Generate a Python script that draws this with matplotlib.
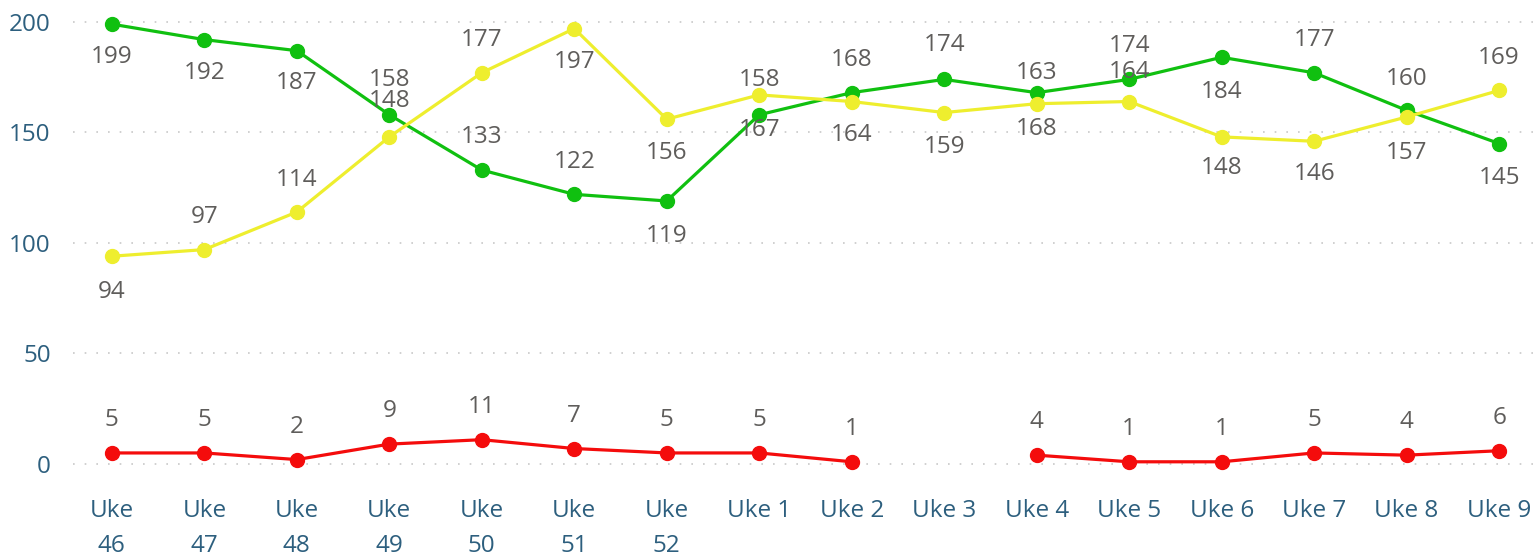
import matplotlib
matplotlib.use("Agg")
import matplotlib.pyplot as plt
import numpy as np

# ── data ────────────────────────────────────────────────────
weeks = ["Uke\n46", "Uke\n47", "Uke\n48", "Uke\n49", "Uke\n50", "Uke\n51", "Uke\n52",
         "Uke 1", "Uke 2", "Uke 3", "Uke 4", "Uke 5", "Uke 6", "Uke 7", "Uke 8", "Uke 9"]
green = [199, 192, 187, 158, 133, 122, 119, 158, 168, 174, 168, 174, 184, 177, 160, 145]
yellow = [94, 97, 114, 148, 177, 197, 156, 167, 164, 159, 163, 164, 148, 146, 157, 169]
red = [5, 5, 2, 9, 11, 7, 5, 5, 1, np.nan, 4, 1, 1, 5, 4, 6]

# label offsets in pixels (negative = above the point)
green_off = [33, 33, 32, -35, -33, -32, 35, -35, -33, -34, 36, -33, 35, -33, -31, 34]
yellow_off = [36, -33, -32, -36, -33, 33, 34, 35, 33, 34, -31, -30, 31, 33, 36, -32]
red_off = [-33] * 16

plt.rcParams["font.family"] = ["Open Sans", "DejaVu Sans"]

W, H = 1537, 560
fig = plt.figure(figsize=(W / 100, H / 100), dpi=100)
ax = fig.add_axes([73 / W, (H - 480) / H, (W - 73) / W, 470 / H])

x = np.arange(len(weeks))
series = [
    (green, "#10C010", green_off),
    (yellow, "#EEEE2E", yellow_off),
    (red, "#F40C0C", red_off),
]
for vals, color, offs in series:
    ax.plot(x, vals, color=color, linewidth=2.3, marker="o", markersize=10,
            clip_on=False, zorder=3)
    for xi, v, off in zip(x, vals, offs):
        if np.isnan(v):
            continue
        ax.annotate(f"{int(v)}", (xi, v), xytext=(0, -off), textcoords="offset pixels",
                    ha="center", va="center", fontsize=17.5, color="#5F5D5B", zorder=4)

ax.set_xlim(-0.42, 15.41)
ax.set_ylim(-7.24, 205.4)
ax.set_yticks([0, 50, 100, 150, 200])
ax.set_xticks(x)
ax.set_xticklabels(weeks, linespacing=1.6)
ax.tick_params(axis="both", length=0, labelsize=17.5, labelcolor="#2D5F7E")
ax.tick_params(axis="y", pad=16)
ax.tick_params(axis="x", pad=14)

ax.grid(axis="y", color="#C8C8C8", linestyle=(0, (1, 6)), linewidth=1.2)
ax.set_axisbelow(True)
for s in ax.spines.values():
    s.set_visible(False)

fig.savefig("out.png", dpi=100)
